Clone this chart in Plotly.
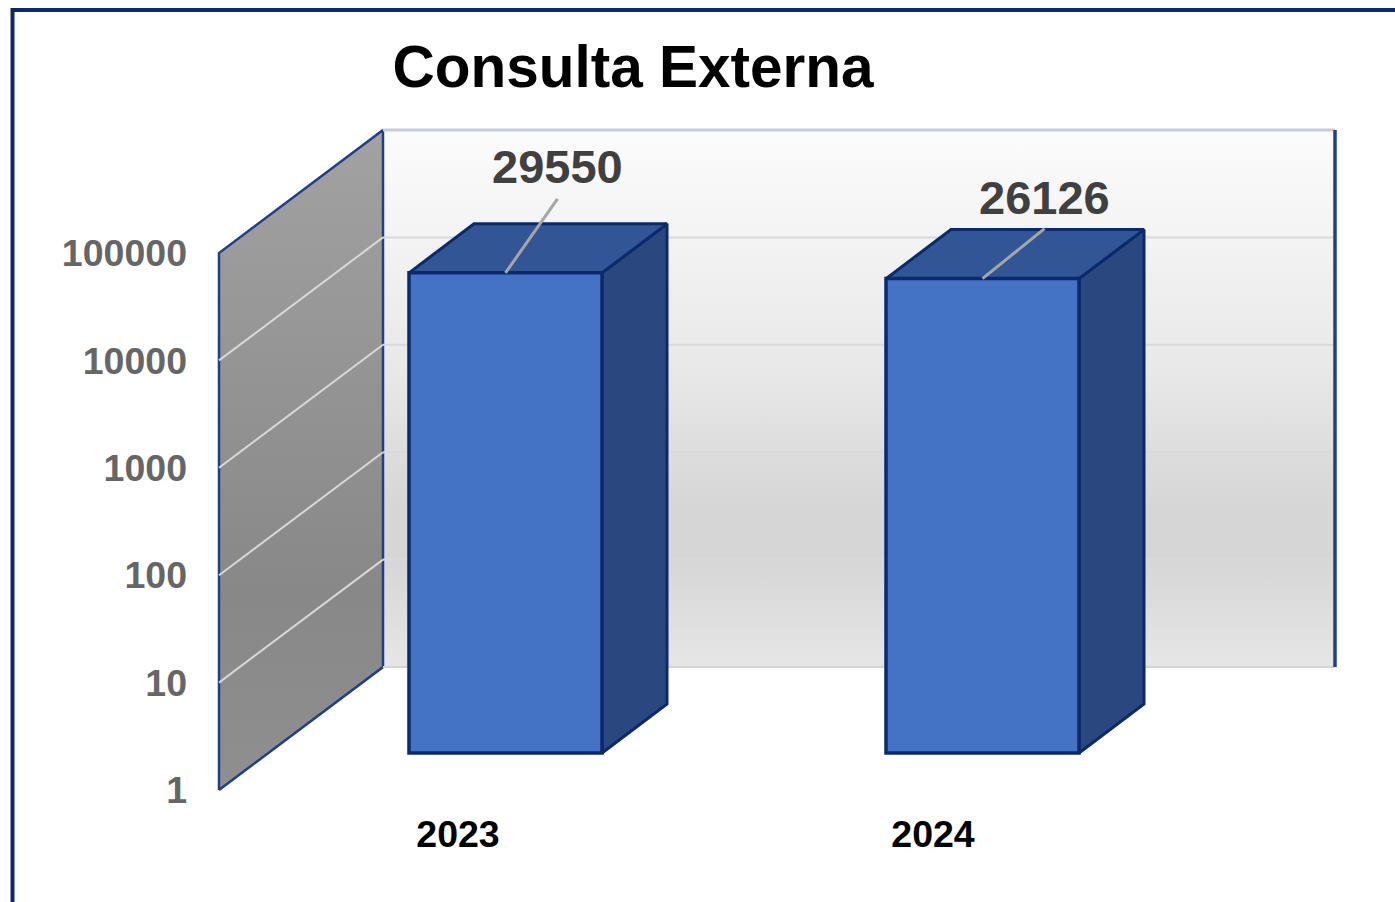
import math
import plotly.graph_objects as go

# ---- data ----
categories = [2023, 2024]
category_labels = ["2023", "2024"]
values = [29550, 26126]
y_ticks = [1, 10, 100, 1000, 10000, 100000]
y_tick_labels = ["1", "10", "100", "1000", "10000", "100000"]
title_text = "Consulta Externa"

# ---- layout geometry (pixels) ----
W, H = 1395, 902
DEC = 107.4               # pixels per decade
WALL_X_PX, WALL_BASE_PX = 219, 790
BAR_X_PX, BAR_STEP_PX, BAR_BASE_PX = 505.5, 477, 753
LAB_X_PX, LAB_STEP_PX = 458, 475
BAR_W_PX = 193
BACK_DX, BACK_DY = 164, 123      # depth of the whole floor
BAR_DX, BAR_DY = 65, 49          # depth of a bar
BACK_RIGHT_PX = 1335

FONT = "Liberation Sans"
NAVY = "#0a2a6c"


def xrange_for(x0_px, step):
    return [categories[0] - x0_px / step, categories[0] + (W - x0_px) / step]


def ylog_range(base_px):
    return [(base_px - H) / DEC, base_px / DEC]


def shift_y(v, px):
    return v * 10 ** (px / DEC)


fig = go.Figure()

wall_x = categories[0] + (WALL_X_PX - LAB_X_PX) / LAB_STEP_PX
back_dx = BACK_DX / LAB_STEP_PX
back_right = categories[0] + (BACK_RIGHT_PX - LAB_X_PX) / LAB_STEP_PX
y_lo, y_hi = y_ticks[0], y_ticks[-1]
back_left = wall_x + back_dx

# back wall
fig.add_trace(go.Scatter(
    x=[back_left, back_right, back_right, back_left, back_left],
    y=[shift_y(y_lo, BACK_DY), shift_y(y_lo, BACK_DY), shift_y(y_hi, BACK_DY),
       shift_y(y_hi, BACK_DY), shift_y(y_lo, BACK_DY)],
    mode="lines", line=dict(width=0), fill="toself", hoverinfo="skip",
    fillgradient=dict(type="vertical", colorscale=[
        [0.0, "#e6e6e6"], [0.2, "#d6d6d6"], [0.3, "#d6d6d6"], [0.55, "#e8e8e8"], [1.0, "#fcfcfc"]]),
))
# left wall
fig.add_trace(go.Scatter(
    x=[wall_x, back_left, back_left, wall_x, wall_x],
    y=[y_lo, shift_y(y_lo, BACK_DY), shift_y(y_hi, BACK_DY), y_hi, y_lo],
    mode="lines", line=dict(width=2.5, color="#1f3f86"), fill="toself", hoverinfo="skip",
    fillgradient=dict(type="vertical", colorscale=[
        [0.0, "#8f8f8f"], [0.3, "#888888"], [1.0, "#a2a2a2"]]),
))
# gridlines
for t in y_ticks[1:-1]:
    fig.add_trace(go.Scatter(
        x=[wall_x, back_left], y=[t, shift_y(t, BACK_DY)],
        mode="lines", line=dict(width=2, color="#d8d8d8"), hoverinfo="skip"))
    fig.add_trace(go.Scatter(
        x=[back_left, back_right], y=[shift_y(t, BACK_DY)] * 2,
        mode="lines", line=dict(width=2, color="#d9d9d9"), hoverinfo="skip"))
# wall frame lines
fig.add_trace(go.Scatter(
    x=[back_left, back_right], y=[shift_y(y_hi, BACK_DY)] * 2,
    mode="lines", line=dict(width=3, color="#c8ccd6"), hoverinfo="skip"))
fig.add_trace(go.Scatter(
    x=[back_left, back_right], y=[shift_y(y_lo, BACK_DY)] * 2,
    mode="lines", line=dict(width=2, color="#d4d4d4"), hoverinfo="skip"))
fig.add_trace(go.Scatter(
    x=[back_right, back_right], y=[shift_y(y_lo, BACK_DY), shift_y(y_hi, BACK_DY)],
    mode="lines", line=dict(width=3.5, color="#1f3f86"), hoverinfo="skip"))

# bar sides and tops (second overlay)
half = BAR_W_PX / BAR_STEP_PX / 2
bdx = BAR_DX / BAR_STEP_PX
for c, v in zip(categories, values):
    right = c + half
    left = c - half
    fig.add_trace(go.Scatter(
        x=[right, right + bdx, right + bdx, right, right],
        y=[y_lo, shift_y(y_lo, BAR_DY), shift_y(v, BAR_DY), v, y_lo],
        xaxis="x2", yaxis="y2", mode="lines", fill="toself", fillcolor="#2a487f",
        line=dict(width=3, color=NAVY), hoverinfo="skip"))
    fig.add_trace(go.Scatter(
        x=[left, right, right + bdx, left + bdx, left],
        y=[v, v, shift_y(v, BAR_DY), shift_y(v, BAR_DY), v],
        xaxis="x2", yaxis="y2", mode="lines", fill="toself", fillcolor="#325595",
        line=dict(width=3, color=NAVY), hoverinfo="skip"))

# bar fronts (third overlay, on top of the sides)
fig.add_trace(go.Bar(
    x=categories, y=values, base=1, width=BAR_W_PX / BAR_STEP_PX,
    xaxis="x3", yaxis="y3", hoverinfo="skip",
    marker=dict(color="#4472c4", line=dict(color=NAVY, width=3.5)),
))

# leader lines and value labels
label_dx_px = [52, 62]
label_tip_dy_px = [74, 50]
label_text_dy_px = [106, 81]
for c, v, dx, tip, ty in zip(categories, values, label_dx_px, label_tip_dy_px, label_text_dy_px):
    fig.add_trace(go.Scatter(
        x=[c, c + dx / BAR_STEP_PX], y=[v, shift_y(v, tip)],
        xaxis="x3", yaxis="y3", mode="lines",
        line=dict(width=3, color="#a6a6a6"), hoverinfo="skip"))
    fig.add_annotation(
        x=c + dx / BAR_STEP_PX, y=math.log10(shift_y(v, ty)),
        xref="x3", yref="y3", text=str(v), showarrow=False,
        xanchor="center", yanchor="middle",
        font=dict(family=FONT, size=47, color="#404040", weight=700))

hidden = dict(showgrid=False, zeroline=False, showticklabels=False, ticks="", showline=False)

fig.update_layout(
    width=W, height=H,
    margin=dict(l=0, r=0, t=0, b=0, autoexpand=False),
    paper_bgcolor="white", plot_bgcolor="rgba(0,0,0,0)",
    showlegend=False,
    title=dict(text=title_text, x=633 / W, y=1 - 67 / H, xref="paper", yref="paper",
               xanchor="center", yanchor="middle",
               font=dict(family=FONT, size=58.5, color="#000000", weight=700)),
    xaxis=dict(domain=[0, 1], range=xrange_for(LAB_X_PX, LAB_STEP_PX), type="linear",
               tickvals=categories, ticktext=category_labels,
               anchor="free", position=1 - 808 / H,
               showgrid=False, zeroline=False, showline=False, ticks="",
               tickfont=dict(family=FONT, size=37.5, color="#000000", weight=700)),
    yaxis=dict(domain=[0, 1], type="log", range=ylog_range(WALL_BASE_PX),
               tickvals=y_ticks, ticktext=y_tick_labels,
               anchor="free", position=187 / W,
               showgrid=False, zeroline=False, showline=False, ticks="",
               tickfont=dict(family=FONT, size=37.5, color="#666666", weight=700)),
    xaxis2=dict(domain=[0, 1], overlaying="x", range=xrange_for(BAR_X_PX, BAR_STEP_PX),
                type="linear", anchor="y2", **hidden),
    yaxis2=dict(domain=[0, 1], overlaying="y", type="log", range=ylog_range(BAR_BASE_PX),
                anchor="x2", **hidden),
    xaxis3=dict(domain=[0, 1], overlaying="x", range=xrange_for(BAR_X_PX, BAR_STEP_PX),
                type="linear", anchor="y3", **hidden),
    yaxis3=dict(domain=[0, 1], overlaying="y", type="log", range=ylog_range(BAR_BASE_PX),
                anchor="x3", **hidden),
    shapes=[dict(type="rect", xref="paper", yref="paper",
                 x0=12.5 / W, x1=1.05, y0=-0.05, y1=1 - 10 / H,
                 line=dict(color="#0a2a6c", width=4), fillcolor="rgba(0,0,0,0)", layer="above")],
)

fig.write_html("out.html", config={"displayModeBar": False},
               post_script="document.body.style.margin='0';document.body.style.overflow='hidden';")
